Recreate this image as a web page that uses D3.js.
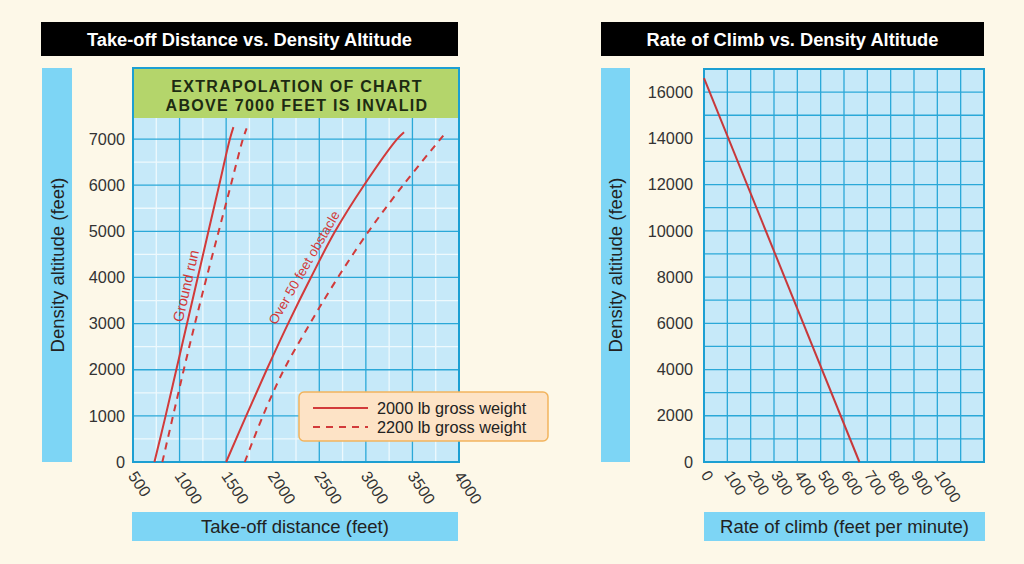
<!DOCTYPE html>
<html><head><meta charset="utf-8">
<script src="https://cdn.jsdelivr.net/npm/d3@7"></script>
<style>
html,body{margin:0;padding:0;background:#fdf8e8;}
svg{display:block;}
text{font-family:"Liberation Sans",Arial,Helvetica,sans-serif;}
</style></head><body>
<svg id="c" width="1024" height="564"></svg>
<script>
// ---------- DATA ----------
// Take-off chart: [take-off distance (ft), density altitude (ft)]
const groundRun2000 = [[730,0],[850,1000],[965,2000],[1080,3000],[1195,4000],[1310,5000],[1425,6000],[1540,7000],[1578,7260]];
const groundRun2200 = [[815,0],[930,1000],[1045,2000],[1165,3000],[1290,4000],[1420,5000],[1550,6000],[1680,7000],[1720,7230]];
const obstacle2000  = [[1500,0],[1715,1000],[1935,2000],[2165,3000],[2410,4000],[2670,5000],[2980,6000],[3335,7000],[3410,7150]];
const obstacle2200  = [[1700,0],[1895,1000],[2120,2000],[2400,3000],[2700,4000],[3030,5000],[3400,6000],[3800,7000],[3850,7120]];
const takeoffXTicks = [500,1000,1500,2000,2500,3000,3500,4000];
const takeoffYTicks = [0,1000,2000,3000,4000,5000,6000,7000];
// Rate of climb chart: [rate of climb (ft/min), density altitude (ft)]
const rateOfClimb = [[0,16600],[666,0]];
const climbXTicks = [0,100,200,300,400,500,600,700,800,900,1000];
const climbYTicks = [0,2000,4000,6000,8000,10000,12000,14000,16000];
const legendLabels = ["2000 lb gross weight","2200 lb gross weight"];
const titles = ["Take-off Distance vs. Density Altitude","Rate of Climb vs. Density Altitude"];
const warning = ["EXTRAPOLATION OF CHART","ABOVE 7000 FEET IS INVALID"];

// ---------- STYLE ----------
const C = {
  box:"#7dd5f5", plot:"#c6e9f9", major:"#2aa8d8", minor:"#eef9fd",
  frame:"#1c9fd2", red:"#d23a3a", green:"#b4d56b", text:"#222"
};
const svg = d3.select("#c");

// ---------- LEFT CHART ----------
const xL = d3.scaleLinear().domain([500,4000]).range([133,459]);
const yL = d3.scaleLinear().domain([0,7500]).range([462,116]);

function titleBar(x0,x1,t){
  svg.append("rect").attr("x",x0).attr("y",22).attr("width",x1-x0).attr("height",34).attr("fill","#000");
  svg.append("text").attr("x",(x0+x1)/2).attr("y",45.5).attr("text-anchor","middle")
    .attr("fill","#fff").attr("font-weight","bold").attr("font-size",18.3).text(t);
}
titleBar(41,458,titles[0]);
titleBar(601,984,titles[1]);

function vBox(x0,w,label){
  svg.append("rect").attr("x",x0).attr("y",68).attr("width",w).attr("height",394).attr("fill",C.box);
  svg.append("text").attr("transform",`translate(${x0+w/2+6.5},265) rotate(-90)`)
    .attr("text-anchor","middle").attr("font-size",18.5).attr("fill",C.text).text(label);
}
function hBox(x0,x1,label){
  svg.append("rect").attr("x",x0).attr("y",512).attr("width",x1-x0).attr("height",29).attr("fill",C.box);
  svg.append("text").attr("x",(x0+x1)/2).attr("y",533).attr("text-anchor","middle")
    .attr("font-size",18.5).attr("fill",C.text).text(label);
}
vBox(42,30,"Density altitude (feet)");
hBox(132,458,"Take-off distance (feet)");
vBox(601,29,"Density altitude (feet)");
hBox(704,985,"Rate of climb (feet per minute)");

const gL = svg.append("g");
gL.append("rect").attr("x",xL(500)).attr("y",yL(7500)).attr("width",xL(4000)-xL(500)).attr("height",yL(0)-yL(7500)).attr("fill",C.plot);
const minorX = d3.range(750,4000,500), minorY = d3.range(500,7500,1000);
gL.selectAll(".mx").data(minorX).join("line").attr("x1",d=>xL(d)).attr("x2",d=>xL(d)).attr("y1",yL(0)).attr("y2",yL(7500)).attr("stroke",C.minor).attr("stroke-width",1.3);
gL.selectAll(".my").data(minorY).join("line").attr("x1",xL(500)).attr("x2",xL(4000)).attr("y1",d=>yL(d)).attr("y2",d=>yL(d)).attr("stroke",C.minor).attr("stroke-width",1.3);
gL.selectAll(".Mx").data(takeoffXTicks).join("line").attr("x1",d=>xL(d)).attr("x2",d=>xL(d)).attr("y1",yL(0)).attr("y2",yL(7500)).attr("stroke",C.major).attr("stroke-width",1.3);
gL.selectAll(".My").data(takeoffYTicks).join("line").attr("x1",xL(500)).attr("x2",xL(4000)).attr("y1",d=>yL(d)).attr("y2",d=>yL(d)).attr("stroke",C.major).attr("stroke-width",1.3);
gL.append("rect").attr("x",xL(500)).attr("y",68).attr("width",xL(4000)-xL(500)).attr("height",yL(7500)-68+2).attr("fill",C.green);
warning.forEach((t,i)=>{
  gL.append("text").attr("x",(xL(500)+xL(4000))/2+1).attr("y",91.5+i*19).attr("text-anchor","middle")
    .attr("font-weight","bold").attr("font-size",16).attr("letter-spacing",1.3).attr("fill","#1d2b12").text(t);
});
gL.append("rect").attr("x",xL(500)).attr("y",68).attr("width",xL(4000)-xL(500)).attr("height",yL(0)-68).attr("fill","none").attr("stroke",C.frame).attr("stroke-width",2);

const lineL = d3.line().x(d=>xL(d[0])).y(d=>yL(d[1])).curve(d3.curveCatmullRom.alpha(0.5));
[[groundRun2000,false],[groundRun2200,true],[obstacle2000,false],[obstacle2200,true]].forEach(([data,dash])=>{
  gL.append("path").datum(data).attr("d",lineL).attr("fill","none").attr("stroke",C.red)
    .attr("stroke-width",2).attr("stroke-dasharray",dash?"7,6":null);
});

function curveLabel(data,alt,txt,off,fs,rot){
  let i = data.findIndex(d=>d[1]>=alt); i = Math.max(1,i);
  const a=data[i-1], b=data[i], t=(alt-a[1])/(b[1]-a[1]);
  const dist = a[0]+t*(b[0]-a[0]);
  const px=xL(dist), py=yL(alt);
  const ang = rot!==undefined ? rot : Math.atan2(yL(b[1])-yL(a[1]), xL(b[0])-xL(a[0]))*180/Math.PI;
  gL.append("text").attr("transform",`translate(${px},${py}) rotate(${ang})`)
    .attr("text-anchor","middle").attr("dy",off).attr("font-size",fs).attr("fill",C.red).text(txt);
}
curveLabel(groundRun2000,3770,"Ground run",-4.5,14.5);
curveLabel(obstacle2000,4100,"Over 50 feet obstacle",-6,13.5,-60);

const axL = svg.append("g").attr("transform",`translate(${xL(500)},0)`)
  .call(d3.axisLeft(yL).tickValues(takeoffYTicks).tickSize(0).tickPadding(8).tickFormat(d3.format("d")));
axL.select(".domain").remove();
axL.selectAll("text").attr("font-size",16.3).attr("fill","#333").attr("font-family","Liberation Sans, Arial, sans-serif");

const axB = svg.append("g").attr("transform",`translate(0,${yL(0)})`)
  .call(d3.axisBottom(xL).tickValues(takeoffXTicks).tickSize(0).tickFormat(d3.format("d")));
axB.select(".domain").remove();
axB.selectAll("text").attr("font-size",16).attr("fill","#333").attr("font-family","Liberation Sans, Arial, sans-serif")
  .attr("text-anchor","start").attr("y",0).attr("dy",0)
  .attr("transform","translate(-6,14) rotate(56)");

const lg = svg.append("g").attr("transform","translate(299,392)");
lg.append("rect").attr("width",249).attr("height",49).attr("rx",5).attr("fill","#fde3c6").attr("stroke","#f2b45e").attr("stroke-width",1.5);
legendLabels.forEach((t,i)=>{
  lg.append("line").attr("x1",14).attr("x2",69).attr("y1",16+i*19).attr("y2",16+i*19)
    .attr("stroke",C.red).attr("stroke-width",2).attr("stroke-dasharray",i?"7,6":null);
  lg.append("text").attr("x",78).attr("y",21.5+i*19).attr("font-size",16.3).attr("fill",C.text).text(t);
});

// ---------- RIGHT CHART ----------
const xR = d3.scaleLinear().domain([0,1200]).range([704,984]);
const yR = d3.scaleLinear().domain([0,17000]).range([462,69]);
const gR = svg.append("g");
gR.append("rect").attr("x",xR(0)).attr("y",yR(17000)).attr("width",xR(1200)-xR(0)).attr("height",yR(0)-yR(17000)).attr("fill",C.plot);
gR.selectAll(".vx").data(d3.range(0,1201,100)).join("line").attr("x1",d=>xR(d)).attr("x2",d=>xR(d)).attr("y1",yR(0)).attr("y2",yR(17000)).attr("stroke",C.major).attr("stroke-width",1.3);
gR.selectAll(".hy").data(d3.range(0,17001,1000)).join("line").attr("x1",xR(0)).attr("x2",xR(1200)).attr("y1",d=>yR(d)).attr("y2",d=>yR(d)).attr("stroke",C.major).attr("stroke-width",1.3);
gR.append("rect").attr("x",xR(0)).attr("y",yR(17000)).attr("width",xR(1200)-xR(0)).attr("height",yR(0)-yR(17000)).attr("fill","none").attr("stroke",C.frame).attr("stroke-width",2);
gR.append("path").datum(rateOfClimb).attr("d",d3.line().x(d=>xR(d[0])).y(d=>yR(d[1])))
  .attr("fill","none").attr("stroke","#c8383a").attr("stroke-width",2);

const axRL = svg.append("g").attr("transform",`translate(${xR(0)},0)`)
  .call(d3.axisLeft(yR).tickValues(climbYTicks).tickSize(0).tickPadding(11).tickFormat(d3.format("d")));
axRL.select(".domain").remove();
axRL.selectAll("text").attr("font-size",16.3).attr("fill","#333").attr("font-family","Liberation Sans, Arial, sans-serif");

const axRB = svg.append("g").attr("transform",`translate(0,${yR(0)})`)
  .call(d3.axisBottom(xR).tickValues(climbXTicks).tickSize(0).tickFormat(d3.format("d")));
axRB.select(".domain").remove();
axRB.selectAll("text").attr("font-size",15.5).attr("fill","#333").attr("font-family","Liberation Sans, Arial, sans-serif")
  .attr("text-anchor","start").attr("y",0).attr("dy",0)
  .attr("transform","translate(-4,13) rotate(57)");
</script>
</body></html>
